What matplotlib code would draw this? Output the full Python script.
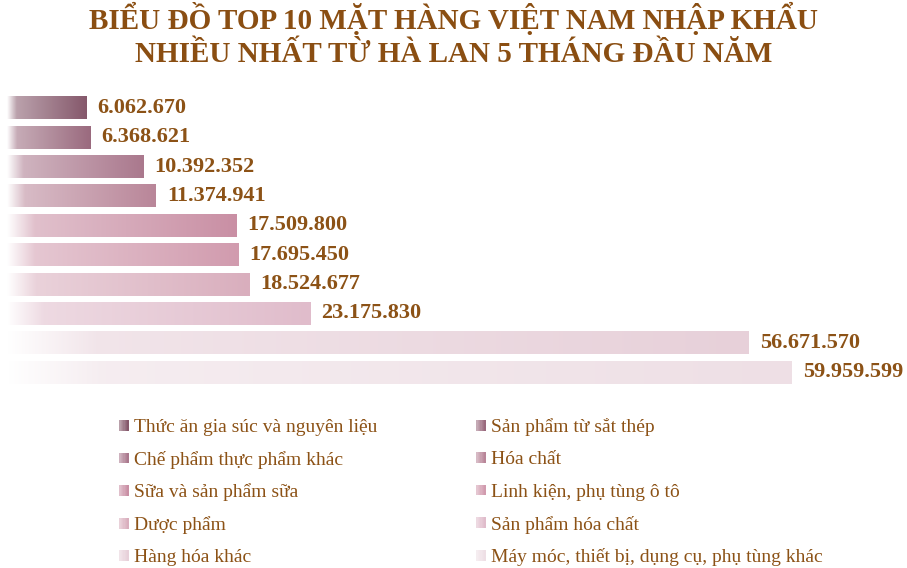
import numpy as np
import matplotlib
matplotlib.use("Agg")
import matplotlib.pyplot as plt
from matplotlib.colors import to_rgb
from matplotlib.patches import Rectangle
from matplotlib.legend_handler import HandlerBase

# data, top bar first
items = ["Thức ăn gia súc và nguyên liệu", "Sản phẩm từ sắt thép",
         "Chế phẩm thực phẩm khác", "Hóa chất",
         "Sữa và sản phẩm sữa", "Linh kiện, phụ tùng ô tô",
         "Dược phẩm", "Sản phẩm hóa chất",
         "Hàng hóa khác", "Máy móc, thiết bị, dụng cụ, phụ tùng khác"]
values = [6062670, 6368621, 10392352, 11374941, 17509800,
          17695450, 18524677, 23175830, 56671570, 59959599]
labels = ["6.062.670", "6.368.621", "10.392.352", "11.374.941", "17.509.800",
          "17.695.450", "18.524.677", "23.175.830", "56.671.570", "59.959.599"]
colors = ["#85586b", "#9a6a7e", "#aa788d", "#b98699", "#c98fa4",
          "#d19bae", "#d9aebd", "#e0bccb", "#e7d0d9", "#eedfe5"]

title = "BIỂU ĐỒ TOP 10 MẶT HÀNG VIỆT NAM NHẬP KHẨU\nNHIỀU NHẤT TỪ HÀ LAN 5 THÁNG ĐẦU NĂM"
brown = "#8c5216"

plt.rcParams['font.family'] = ['Liberation Serif', 'DejaVu Serif']


def grad_rgb(color, n=256):
    c = np.array(to_rgb(color))
    t = np.linspace(0, 1, n)
    a = 0.5 * np.minimum(t / 0.12, 1) + 0.5 * t
    return (1 - a)[:, None] * np.ones(3) + a[:, None] * c


fig = plt.figure(figsize=(9.07, 5.68), dpi=100)
ax = fig.add_axes([7 / 907, 181 / 568, 890 / 907, 294 / 568])

h = 0.78
for i, (v, c, lab) in enumerate(zip(values, colors, labels)):
    img = grad_rgb(c)[None, :, :]
    ax.imshow(img, extent=[0, v, i + h / 2, i - h / 2], aspect='auto',
              interpolation='bilinear')
    ax.annotate(lab, (v, i), xytext=(8, 0), textcoords='offset points',
                ha='left', va='center', fontsize=16, fontweight='bold', color=brown)

ax.set_xlim(0, 68e6)
ax.set_ylim(9.5, -0.5)
ax.axis('off')

fig.text(0.5, 1 - 35 / 568, title, ha='center', va='center', fontsize=21,
         fontweight='bold', color="#8a4e12", linespacing=1.25)


class GradHandler(HandlerBase):
    def create_artists(self, legend, orig_handle, xdescent, ydescent,
                       width, height, fontsize, trans):
        rgb = grad_rgb(orig_handle.get_facecolor(), 8)
        s = height * 0.8
        y0 = -ydescent + (height - s) / 2
        x0 = -xdescent + width - s
        arts = []
        for k in range(8):
            r = Rectangle((x0 + k * s / 8, y0), s / 8 + 0.3, s,
                          facecolor=rgb[k], edgecolor='none', transform=trans)
            arts.append(r)
        return arts


handles = [Rectangle((0, 0), 1, 1, facecolor=c) for c in colors]
order = [0, 2, 4, 6, 8, 1, 3, 5, 7, 9]
leg = fig.legend([handles[k] for k in order], [items[k] for k in order],
                 handler_map={Rectangle: GradHandler()},
                 loc='upper left', bbox_to_anchor=(118 / 907, 1 - 418 / 568),
                 ncol=2, frameon=False, fontsize=14, handlelength=0.55,
                 handletextpad=0.25, labelspacing=0.76, columnspacing=5.05,
                 borderpad=0, borderaxespad=0)
for t in leg.get_texts():
    t.set_color(brown)

fig.savefig("out.png", dpi=100, facecolor="white")
